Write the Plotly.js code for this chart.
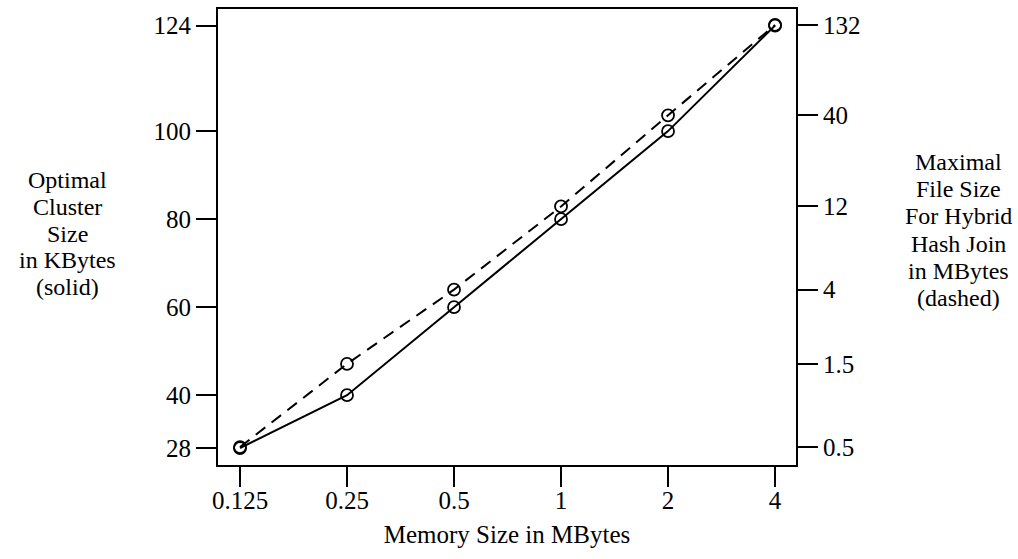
<!DOCTYPE html>
<html>
<head>
<meta charset="utf-8">
<script src="https://cdn.plot.ly/plotly-3.0.1.min.js"></script>
<style>html,body{margin:0;padding:0;background:#fff;}#chart{width:1018px;height:559px;}</style>
</head>
<body>
<div id="chart"></div>
<script>
const memorySizes = [0.125, 0.25, 0.5, 1, 2, 4];
const xTickText = ["0.125", "0.25", "0.5", "1", "2", "4"];
const clusterSizeKB = [28, 40, 60, 80, 100, 124];
const maxFileSizeMB = [0.5, 1.5, 4, 12, 40, 132];
const leftTicks = [28, 40, 60, 80, 100, 124];
const rightTicks = [0.5, 1.5, 4, 12, 40, 132];
const rightTickText = ["0.5", "1.5", "4", "12", "40", "132"];
const leftTitleLines = ["Optimal", "Cluster", "Size", "in KBytes", "(solid)"];
const rightTitleLines = ["Maximal", "File Size", "For Hybrid", "Hash Join", "in MBytes", "(dashed)"];

const family = "Liberation Serif, Times New Roman, serif";
const tickFont = {family: family, size: 25, color: "#000"};
const titleFont = {family: family, size: 25, color: "#000"};
const sideFont = {family: family, size: 24, color: "#000"};

// plot-area geometry (pixels) used to place the side titles
const L = 218, R = 796, T = 9, B = 465;
const px2x = p => (p - L) / (R - L);
const px2y = p => (B - p) / (B - T);

const traces = [
  {
    x: memorySizes, y: clusterSizeKB, type: "scatter", mode: "lines+markers",
    line: {color: "#000", width: 2},
    marker: {symbol: "circle-open", size: 12, color: "#000", line: {width: 1.8, color: "#000"}},
    yaxis: "y", showlegend: false
  },
  {
    x: memorySizes, y: maxFileSizeMB, type: "scatter", mode: "lines+markers",
    line: {color: "#000", width: 2, dash: "12px,8px"},
    marker: {symbol: "circle-open", size: 12, color: "#000", line: {width: 1.8, color: "#000"}},
    yaxis: "y2", showlegend: false
  }
];

const annotations = [];
leftTitleLines.forEach((t, i) => annotations.push({
  text: t, xref: "paper", yref: "paper", x: px2x(67), y: px2y(180 + i * 26.8),
  xanchor: "center", yanchor: "middle", showarrow: false, font: sideFont
}));
rightTitleLines.forEach((t, i) => annotations.push({
  text: t, xref: "paper", yref: "paper", x: px2x(958), y: px2y(162 + i * 27.2),
  xanchor: "center", yanchor: "middle", showarrow: false, font: sideFont
}));

const layout = {
  width: 1018, height: 559,
  margin: {l: L, r: 1018 - R, t: T, b: 559 - B},
  paper_bgcolor: "#fff", plot_bgcolor: "#fff",
  font: tickFont,
  xaxis: {
    type: "log", range: [-0.965, 0.661],
    tickvals: memorySizes, ticktext: xTickText,
    ticks: "outside", ticklen: 20, tickwidth: 2, tickcolor: "#000",
    ticklabelstandoff: -8,
    showline: true, linewidth: 2, linecolor: "#000", mirror: true,
    showgrid: false, zeroline: false,
    tickfont: tickFont,
    title: {text: "Memory Size in MBytes", font: titleFont, standoff: 12}
  },
  yaxis: {
    range: [24.14, 127.75],
    tickvals: leftTicks,
    ticks: "outside", ticklen: 20, tickwidth: 2, tickcolor: "#000",
    showline: true, linewidth: 2, linecolor: "#000",
    showgrid: false, zeroline: false,
    tickfont: tickFont
  },
  yaxis2: {
    type: "log", range: [-0.404, 2.212],
    overlaying: "y", side: "right",
    tickvals: rightTicks, ticktext: rightTickText,
    ticks: "outside", ticklen: 20, tickwidth: 2, tickcolor: "#000",
    showline: true, linewidth: 2, linecolor: "#000",
    showgrid: false, zeroline: false,
    tickfont: tickFont
  },
  annotations: annotations
};

Plotly.newPlot("chart", traces, layout, {displayModeBar: false, staticPlot: true});
</script>
</body>
</html>
